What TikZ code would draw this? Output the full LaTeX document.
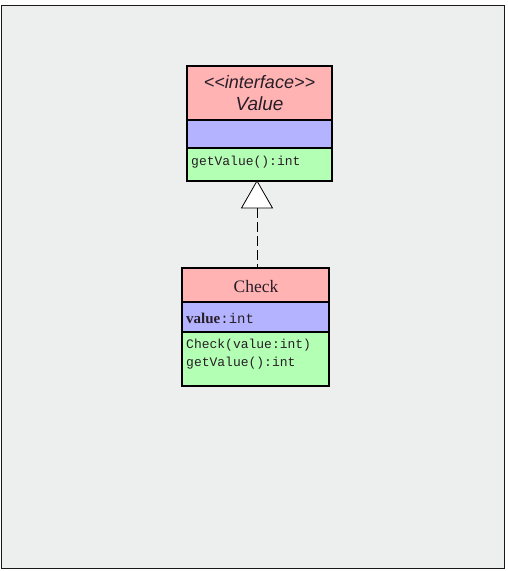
\documentclass[tikz,border=0pt]{standalone}
\usepackage{fontspec}
\setmainfont{Liberation Serif}
\setsansfont{Liberation Sans}
\setmonofont{Liberation Mono}
\definecolor{bgc}{RGB}{237,239,238}
\definecolor{hdr}{RGB}{255,179,179}
\definecolor{atr}{RGB}{179,179,255}
\definecolor{opc}{RGB}{179,255,179}
\definecolor{txt}{RGB}{40,30,40}
\tikzset{
  lbl/.style={text=txt, inner sep=0pt},
}
\begin{document}
\begin{tikzpicture}[x=1pt,y=-1pt]
\useasboundingbox (0,0) rectangle (508,571);
\fill[white] (0,0) rectangle (508,571);
\draw[fill=bgc, line width=1pt, draw=black!90] (1.5,5.5) rectangle (504,568);
% Value interface
\draw[fill=hdr, line width=1.2pt] (187,66) rectangle (332,120);
\draw[fill=atr, line width=1.2pt] (187,120) rectangle (332,148);
\draw[fill=opc, line width=1.2pt] (187,148) rectangle (332,181);
\node[lbl, font=\sffamily\itshape\fontsize{18}{20}\selectfont] (vst) at (259.5,82) {{<}{<}interface{>}{>}};
\node[lbl, font=\sffamily\itshape\fontsize{19}{21}\selectfont] (vname) at (259.5,104) {Value};
\node[lbl, anchor=west, font=\ttfamily\fontsize{13}{15}\selectfont] (vop) at (191,162) {getValue():int};
\coordinate (vbot) at (257,181);
% Check class
\draw[fill=hdr, line width=1.2pt] (182,268) rectangle (329,302);
\draw[fill=atr, line width=1.2pt] (182,302) rectangle (329,332);
\draw[fill=opc, line width=1.2pt] (182,332) rectangle (329,386);
\node[lbl, font=\fontsize{17.5}{19}\selectfont] (cname) at (256,287) {Check};
\node[lbl, anchor=west, font=\fontsize{14}{16}\selectfont] (cattr) at (186,318) {{\fontsize{15}{16}\selectfont\textbf{value}}\texttt{:int}};
\node[lbl, anchor=west, font=\ttfamily\fontsize{13}{15}\selectfont] (cop1) at (186,345) {Check(value:int)};
\node[lbl, anchor=west, font=\ttfamily\fontsize{13}{15}\selectfont] (cop2) at (186,363) {getValue():int};
\coordinate (ctop) at (257,268);
% realization
\coordinate (tb) at (257,208);
\draw[fill=white, line width=0.8pt, line join=miter] (vbot) -- (272.5,208) -- (241.5,208) -- cycle;
\draw[line width=1pt, dash pattern=on 10pt off 4pt] (tb) -- (ctop);
\end{tikzpicture}
\end{document}
